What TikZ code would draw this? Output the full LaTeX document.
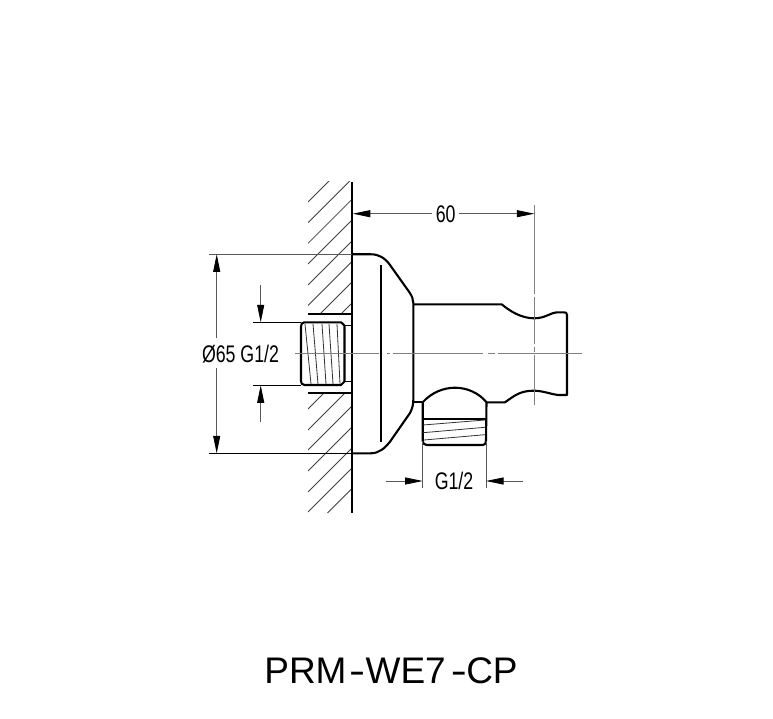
\documentclass[tikz,border=0pt]{standalone}
\usepackage{fontspec}
\setmainfont{Liberation Sans}
\usetikzlibrary{arrows.meta}
\tikzset{
  outline/.style={line width=2.1pt,black,line join=round},
  hatch/.style={line width=0.8pt,black!75},
  dimline/.style={line width=0.8pt,black!65},
  centerline/.style={line width=0.9pt,black!50},
  threadline/.style={line width=0.8pt,black!80},
  dimarrow/.style={dimline,-{Triangle[length=17.5pt,width=7pt,black]}},
  dimtext/.style={inner sep=0pt,anchor=base,xscale=.74,font=\fontsize{24}{26}\selectfont,black},
  titletext/.style={inner sep=0pt,anchor=base,font=\fontsize{37}{40}\selectfont,black}
}
\newcommand{\widehyph}{\scalebox{1.3}[1]{-}}
\begin{document}
\begin{tikzpicture}[x=1pt,y=-1pt]
\useasboundingbox (0,0) rectangle (773,719);
% wall hatching
\begin{scope}
  \clip (308,182) rectangle (351,313.5);
  \foreach \y in {202,222.7,243.4,264,285,305.5,326,347}
    \draw[hatch] (308,\y) -- +(60,-60);
\end{scope}
\begin{scope}
  \clip (308,393.5) rectangle (351,512);
  \foreach \y in {409,430,450,471,492,512,532.5}
    \draw[hatch] (308,\y) -- +(60,-60);
\end{scope}
% wall and sleeve
\draw[outline] (352,182) -- (352,512.7);
\draw[outline] (307.7,314.3) -- (352,314.3);
\draw[outline] (307.7,392.7) -- (352,392.7);
% rear fitting
\draw[outline] (304.5,322.3) -- (341,322.3) -- (344.5,325.5) -- (344.5,381.5) -- (341,385) -- (304.5,385)
  .. controls (302,385) and (301,383) .. (301,381) -- (301,326.5) .. controls (301,324) and (302,322.3) .. (304.5,322.3) -- cycle;
\draw[outline,line width=1.5pt] (344.5,325.7) -- (352,325.7) (344.5,381.7) -- (352,381.7);
\foreach \a/\b in {305/311,313/318,322/326,329/333,337/340}
  \draw[threadline] (\a,324) -- (\b,384);
% body
\draw[outline] (352,254.3) -- (371,254.3) .. controls (379,254.3) and (385,258) .. (390,265)
  -- (409,291.7) .. controls (412,296) and (413.3,299) .. (413.3,303) -- (413.3,400)
  .. controls (413.3,405) and (412,409) .. (410,413) -- (390,441.7)
  .. controls (385,448) and (379,453.3) .. (371,453.3) -- (352,453.3);
\draw[outline] (381,265) -- (381,442.3);
\draw[outline] (413.3,304.3) -- (501.7,304.3) .. controls (511,312) and (522,318.3) .. (534.3,318.3)
  .. controls (546,318.3) and (550,312.3) .. (558.3,312.3) -- (564,312.3) .. controls (566,312.3) and (567,313) .. (567,315)
  -- (567,395) -- (558,395) .. controls (550,394) and (543,390.7) .. (533.5,390.7)
  .. controls (520,390.7) and (514,396) .. (505,402.3) -- (486.5,402.3);
\draw[outline] (413.3,402.3) -- (422.7,402.3);
% outlet
\draw[outline] (422.7,402.3) .. controls (431,393) and (443,387.7) .. (455,387.7)
  .. controls (467,387.7) and (479,393) .. (486.5,402.3) -- (486,441)
  .. controls (486,444) and (484.5,445) .. (482.5,445) -- (427,445)
  .. controls (424.5,445) and (422.7,443.5) .. (422.7,441) -- cycle;
\draw[outline] (423,419.3) -- (486,419.3);
\draw[threadline] (423,425) -- (485,420) (423,432.7) -- (485,427.3) (424,440) -- (485,434.7);
% centre lines
\draw[centerline] (295,353.7) -- (379,353.7) (386.5,353.7) -- (390,353.7) (393,353.7) -- (483,353.7)
  (488,353.7) -- (495,353.7) (498,353.7) -- (581.7,353.7);
\draw[centerline] (534.3,205) -- (534.3,294) (534.3,297) -- (534.3,343.5) (534.3,347) -- (534.3,351.5) (534.3,355) -- (534.3,405);
% extension lines
\coordinate (wallA) at (352,254.3);
\coordinate (wallB) at (352,453.3);
\coordinate (extA) at (209,254.3);
\coordinate (extB) at (209,453.3);
\coordinate (fitA) at (301,322.3);
\coordinate (fitB) at (301,385.3);
\coordinate (extC) at (252.7,322.3);
\coordinate (extD) at (252.7,385.3);
\draw[dimline] (extA) -- (wallA);
\draw[dimline,black] (extB) -- (wallB);
\draw[dimline,black] (extC) -- (fitA);
\draw[dimline,black] (extD) -- (fitB);
\draw[dimline] (422.7,441) -- (422.7,488) (486,441) -- (486,488);
% dimension arrows
\coordinate (d65tA) at (216.7,338);
\coordinate (d65hA) at (216.7,254.3);
\coordinate (d65tB) at (216.7,368);
\coordinate (d65hB) at (216.7,453.3);
\draw[dimarrow] (d65tA) -- (d65hA);
\draw[dimarrow] (d65tB) -- (d65hB);
\coordinate (gtA) at (260.7,285);
\coordinate (ghA) at (260.7,322.3);
\coordinate (gtB) at (260.7,422);
\coordinate (ghB) at (260.7,385.3);
\draw[dimarrow] (gtA) -- (ghA);
\draw[dimarrow] (gtB) -- (ghB);
\coordinate (sixA) at (431.7,213.7);
\coordinate (wallC) at (352.8,213.7);
\coordinate (sixB) at (459,213.7);
\coordinate (sixC) at (534.3,213.7);
\draw[dimarrow] (sixA) -- (wallC);
\draw[dimarrow] (sixB) -- (sixC);
\coordinate (outA) at (386,481);
\coordinate (outB) at (422.7,481);
\coordinate (outC) at (522.7,481);
\coordinate (outD) at (486,481);
\draw[dimarrow] (outA) -- (outB);
\draw[dimarrow] (outC) -- (outD);
% labels
\node[dimtext] (labelSixty) at (445.7,222.3) {60};
\node[dimtext] (labelLeft) at (240.5,362.7) {Ø65 G1/2};
\node[dimtext] (labelOutlet) at (454,489) {G1/2};
\node[titletext] (title) at (391,683.3) {PRM\kern2.5pt\widehyph\kern0.5pt WE7\kern5pt\widehyph\kern-0.5pt CP};
\end{tikzpicture}
\end{document}
